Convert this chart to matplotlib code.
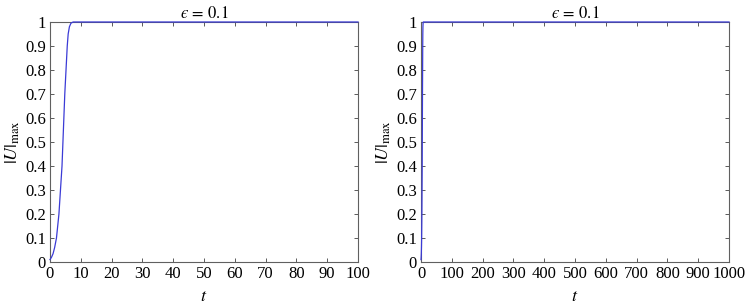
import numpy as np
import matplotlib
matplotlib.use('Agg')
from matplotlib import pyplot as plt

# |U|_max vs t (eps = 0.1)
t_left = [0, 0.5, 1, 1.5, 2.1, 2.9, 3.4, 3.9, 4.2, 4.5, 4.8, 5.2, 5.6, 5.9, 6.3, 6.8, 7.5, 10, 100]
u_left = [0.01, 0.02, 0.035, 0.06, 0.1, 0.2, 0.3, 0.4, 0.5, 0.6, 0.7, 0.8, 0.9, 0.95, 0.98, 0.995, 1.0, 1.0, 1.0]
t_right = t_left + [1000]
u_right = u_left + [1.0]

xticks_left = np.arange(0, 101, 10)
xticks_right = np.arange(0, 1001, 100)
yticks = np.arange(0, 1.01, 0.1)
ytick_labels = ['0', '0.1', '0.2', '0.3', '0.4', '0.5', '0.6', '0.7', '0.8', '0.9', '1']
title = '$\u03f5\\,=\\,0.1$'

plt.rcParams['font.family'] = ['Liberation Serif', 'DejaVu Serif']
plt.rcParams['mathtext.fontset'] = 'stix'
plt.rcParams['font.size'] = 12

fig = plt.figure(figsize=(7.46, 3.04), dpi=100)
ax1 = fig.add_axes([50/746, 42/304, 308/746, 240/304])
ax2 = fig.add_axes([421/746, 42/304, 308/746, 240/304])

panels = [(ax1, t_left, u_left, xticks_left, 100),
          (ax2, t_right, u_right, xticks_right, 1000)]
for ax, t, u, xt, xmax in panels:
    ax.plot(t, u, color='#3b3bd6', lw=0.9, zorder=5, clip_on=False)
    ax.set_xlim(0, xmax)
    ax.set_ylim(0, 1)
    ax.set_xticks(xt)
    ax.set_yticks(yticks)
    ax.set_yticklabels(ytick_labels)
    ax.tick_params(direction='in', top=True, right=True, length=3, width=0.6,
                   color='#404040', labelsize=12, pad=3)
    for s in ax.spines.values():
        s.set_color('#606060')
        s.set_linewidth(0.8)
    ax.set_title(title, fontsize=12, pad=3)
    ax.set_xlabel(r'$t$', fontsize=13, labelpad=4)
    ax.set_ylabel(r'$|U|_{\mathrm{max}}$', fontsize=13, labelpad=2)

fig.savefig('out.png', dpi=100)
